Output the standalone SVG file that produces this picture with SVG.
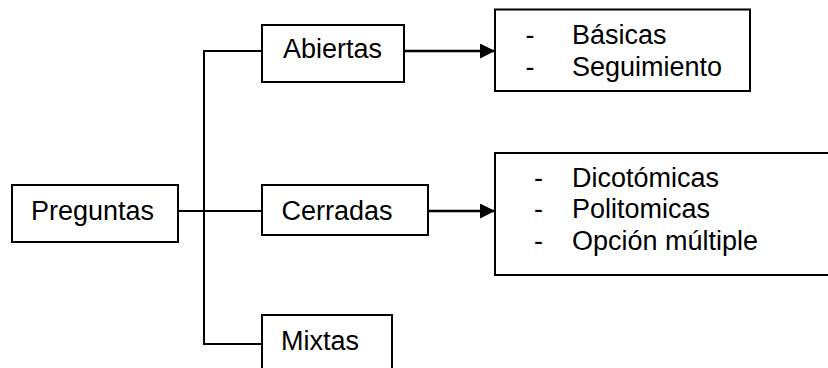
<svg xmlns="http://www.w3.org/2000/svg" width="828" height="368" viewBox="0 0 828 368">
<style>
.box{fill:#fff;stroke:#000;stroke-width:2}
.ln{fill:none;stroke:#000;stroke-width:2}
.ar{fill:none;stroke:#000;stroke-width:2.6}
text{font-family:"Liberation Sans",Arial,sans-serif;font-size:27px;fill:#000}
</style>
<defs>
<marker id="ah" markerUnits="userSpaceOnUse" markerWidth="16" markerHeight="16" refX="15" refY="7.5" orient="auto">
<path d="M0,0 L15,7.5 L0,15 Z" fill="#000"/>
</marker>
</defs>
<rect width="828" height="368" fill="#fff"/>
<g id="connectors">
<path class="ln" d="M178,211 H262"/>
<path class="ln" d="M262,51 H204 V344 H262"/>
<path class="ar" d="M404,51 H495" marker-end="url(#ah)"/>
<path class="ar" d="M428,211 H495" marker-end="url(#ah)"/>
</g>
<g id="preguntas">
<rect class="box" x="12" y="185" width="166" height="57"/>
<text x="31" y="219.5">Preguntas</text>
</g>
<g id="abiertas">
<rect class="box" x="262" y="25" width="142" height="57"/>
<text x="283" y="57.5">Abiertas</text>
</g>
<g id="cerradas">
<rect class="box" x="262" y="185" width="166" height="50"/>
<text x="281.5" y="219.5">Cerradas</text>
</g>
<g id="mixtas">
<rect class="box" x="262" y="315" width="130" height="70"/>
<text x="281" y="350">Mixtas</text>
</g>
<g id="abiertas-tipos">
<rect class="box" x="495" y="9.5" width="255" height="81.5"/>
<text x="525.5" y="44">-</text>
<text x="572" y="44">Básicas</text>
<text x="525.5" y="75.5">-</text>
<text x="572" y="75.5">Seguimiento</text>
</g>
<g id="cerradas-tipos">
<rect class="box" x="495" y="153" width="345" height="122"/>
<text x="534" y="186.7">-</text>
<text x="572" y="186.7">Dicotómicas</text>
<text x="534" y="218.3">-</text>
<text x="572" y="218.3">Politomicas</text>
<text x="534" y="250">-</text>
<text x="572" y="250">Opción múltiple</text>
</g>
</svg>
